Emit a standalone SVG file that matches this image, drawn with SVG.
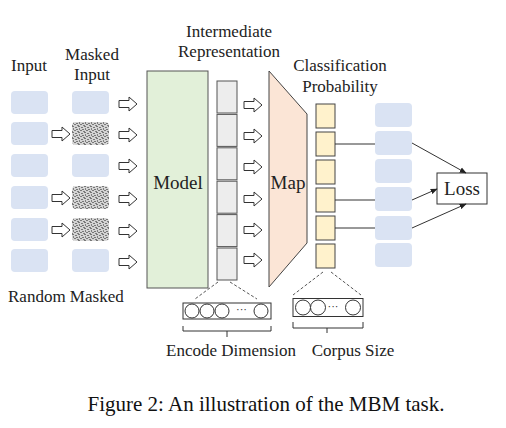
<svg xmlns="http://www.w3.org/2000/svg" width="506" height="428" viewBox="0 0 506 428">
<style>
text{font-family:"Liberation Serif","Times New Roman",serif;fill:#222}
.lbl{font-size:17px}
.big{font-size:19px}
.cap{font-size:21px;fill:#111}
.blue{fill:#dae3f3}
.mask{fill:url(#noise)}
.barr{fill:#fff;stroke:#333;stroke-width:1}
.cell{fill:#ededed;stroke:#555;stroke-width:1}
.prob{fill:#fff2cc;stroke:#444;stroke-width:1}
.ln{stroke:#333;stroke-width:1;fill:none}
.dash{stroke:#444;stroke-width:0.9;stroke-dasharray:3 2;fill:none}
.circ{fill:#fff;stroke:#333;stroke-width:1}
</style>
<defs>
<pattern id="noise" width="6" height="6" patternUnits="userSpaceOnUse">
<rect width="6" height="6" fill="#d4d4d4"/>
<rect x="0" y="0" width="2" height="1" fill="#777"/>
<rect x="3" y="1" width="2" height="1" fill="#777"/>
<rect x="1" y="2" width="1" height="2" fill="#808080"/>
<rect x="4" y="3" width="2" height="1" fill="#777"/>
<rect x="2" y="4" width="2" height="1" fill="#7a7a7a"/>
<rect x="0" y="5" width="1" height="1" fill="#777"/>
<rect x="5" y="5" width="1" height="1" fill="#808080"/>
</pattern>
<path id="ba" class="barr" d="M0,-3.5H10V-7L18,0L10,7V3.5H0Z"/>
<marker id="ah" viewBox="0 0 10 10" refX="9" refY="5" markerWidth="7" markerHeight="7" orient="auto" markerUnits="userSpaceOnUse">
<path d="M0,1L10,5L0,9Z" fill="#222"/>
</marker>
</defs>
<rect width="506" height="428" fill="#fff"/>

<g id="labels">
<text class="lbl" x="29" y="71" text-anchor="middle">Input</text>
<text class="lbl" text-anchor="middle"><tspan x="92" y="60">Masked</tspan><tspan x="92" y="80">Input</tspan></text>
<text class="lbl" text-anchor="middle"><tspan x="229" y="37">Intermediate</tspan><tspan x="229" y="57">Representation</tspan></text>
<text class="lbl" text-anchor="middle"><tspan x="340" y="71">Classification</tspan><tspan x="340" y="92">Probability</tspan></text>
<text class="lbl" x="8" y="302">Random Masked</text>
<text class="lbl" x="231" y="356" text-anchor="middle">Encode Dimension</text>
<text class="lbl" x="353" y="356" text-anchor="middle">Corpus Size</text>
</g>

<g id="input">
<rect class="blue" x="11" y="91" width="37" height="23" rx="4"/>
<rect class="blue" x="11" y="122" width="37" height="23" rx="4"/>
<rect class="blue" x="11" y="154" width="37" height="23" rx="4"/>
<rect class="blue" x="11" y="186" width="37" height="23" rx="4"/>
<rect class="blue" x="11" y="218" width="37" height="23" rx="4"/>
<rect class="blue" x="11" y="249" width="37" height="23" rx="4"/>
</g>

<g id="masked-input">
<rect class="blue" x="72" y="91" width="37" height="23" rx="4"/>
<rect class="mask" x="72" y="122" width="37" height="23" rx="4"/>
<rect class="blue" x="72" y="154" width="37" height="23" rx="4"/>
<rect class="mask" x="72" y="186" width="37" height="23" rx="4"/>
<rect class="mask" x="72" y="218" width="37" height="23" rx="4"/>
<rect class="blue" x="72" y="249" width="37" height="23" rx="4"/>
</g>

<g id="model">
<rect x="147" y="71" width="61" height="217" fill="#e2f0d9" stroke="#555" stroke-width="1"/>
<text class="big" x="178" y="189" text-anchor="middle">Model</text>
</g>

<g id="intermediate">
<rect class="cell" x="217" y="81" width="20" height="32"/>
<rect class="cell" x="217" y="114.4" width="20" height="32"/>
<rect class="cell" x="217" y="147.8" width="20" height="32"/>
<rect class="cell" x="217" y="181.2" width="20" height="32"/>
<rect class="cell" x="217" y="214.6" width="20" height="32"/>
<rect class="cell" x="217" y="248" width="20" height="32"/>
</g>

<g id="map">
<polygon points="269,71 307,114 307,243 269,287" fill="#fbe5d6" stroke="#444" stroke-width="1"/>
<text class="big" x="288" y="189" text-anchor="middle">Map</text>
</g>

<g id="probability">
<rect class="prob" x="316" y="104" width="19" height="24"/>
<rect class="prob" x="316" y="132" width="19" height="24"/>
<rect class="prob" x="316" y="160" width="19" height="24"/>
<rect class="prob" x="316" y="188" width="19" height="24"/>
<rect class="prob" x="316" y="216" width="19" height="24"/>
<rect class="prob" x="316" y="244" width="19" height="24"/>
</g>

<g id="targets">
<rect class="blue" x="375" y="103" width="37" height="24" rx="4"/>
<rect class="blue" x="375" y="131" width="37" height="24" rx="4"/>
<rect class="blue" x="375" y="159" width="37" height="24" rx="4"/>
<rect class="blue" x="375" y="187" width="37" height="24" rx="4"/>
<rect class="blue" x="375" y="216" width="37" height="24" rx="4"/>
<rect class="blue" x="375" y="243" width="37" height="24" rx="4"/>
</g>

<g id="loss">
<rect x="437" y="173" width="50" height="31" fill="#fff" stroke="#333" stroke-width="1"/>
<text class="big" x="462" y="195" text-anchor="middle">Loss</text>
</g>

<g id="encode-dimension">
<rect x="183" y="303" width="88" height="16" fill="#fff" stroke="#333" stroke-width="1"/>
<circle class="circ" cx="192" cy="311" r="7"/>
<circle class="circ" cx="207" cy="311" r="7"/>
<circle class="circ" cx="222" cy="311" r="7"/>
<circle class="circ" cx="261" cy="311" r="7"/>
<text x="241.5" y="313" font-size="11" text-anchor="middle">···</text>
</g>

<g id="corpus-size">
<rect x="293" y="298.5" width="70" height="18" fill="#fff" stroke="#333" stroke-width="1"/>
<circle class="circ" cx="303" cy="307.5" r="7.5"/>
<circle class="circ" cx="318" cy="307.5" r="7.5"/>
<circle class="circ" cx="353" cy="307.5" r="7.5"/>
<text x="333" y="310" font-size="11" text-anchor="middle">···</text>
</g>

<g id="connectors">
<use href="#ba" x="52" y="134"/>
<use href="#ba" x="52" y="198"/>
<use href="#ba" x="52" y="230"/>
<use href="#ba" x="119" y="104"/>
<use href="#ba" x="119" y="135"/>
<use href="#ba" x="119" y="166"/>
<use href="#ba" x="119" y="199"/>
<use href="#ba" x="119" y="231"/>
<use href="#ba" x="119" y="262"/>
<use href="#ba" x="244" y="105"/>
<use href="#ba" x="244" y="136"/>
<use href="#ba" x="244" y="167"/>
<use href="#ba" x="244" y="199"/>
<use href="#ba" x="244" y="230"/>
<use href="#ba" x="244" y="260"/>
<line class="ln" x1="335" y1="144" x2="375" y2="144"/>
<line class="ln" x1="335" y1="200" x2="375" y2="200"/>
<line class="ln" x1="335" y1="228" x2="375" y2="228"/>
<line class="ln" x1="412" y1="143" x2="466" y2="173" marker-end="url(#ah)"/>
<line class="ln" x1="412" y1="200" x2="437" y2="189" marker-end="url(#ah)"/>
<line class="ln" x1="412" y1="228" x2="466" y2="204" marker-end="url(#ah)"/>
<path class="dash" d="M218,282L195,299M230,282L257,299"/>
<path class="dash" d="M323,272L293,295M331,272L361,295"/>
<path class="ln" d="M183,326V331H271V326M227,331V337"/>
<path class="ln" d="M293,322V328H363V322M327,328V333"/>
</g>

<text class="cap" x="266" y="411" text-anchor="middle">Figure 2: An illustration of the MBM task.</text>
</svg>
